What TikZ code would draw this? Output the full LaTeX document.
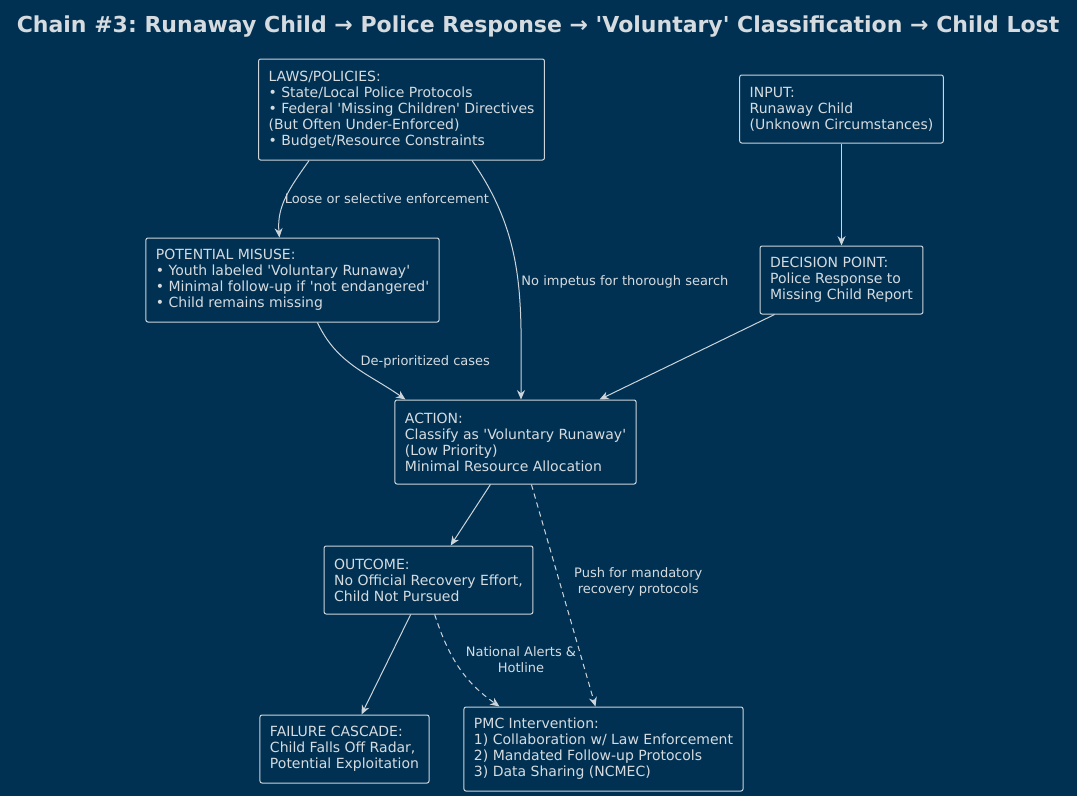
\documentclass[tikz,border=0pt]{standalone}
\usepackage{fontspec}
\setmainfont{DejaVu Sans}
\usetikzlibrary{arrows.meta,calc,positioning}
\definecolor{ChainBg}{RGB}{0,49,83}
\definecolor{ChainLine}{RGB}{205,212,218}
\definecolor{ChainText}{RGB}{214,219,223}
\newcommand{\sq}{\textquotesingle}
\frenchspacing

\begin{document}
\begin{tikzpicture}[x=0.75pt,y=-0.75pt,>={Stealth[length=7pt,width=6pt]},
    box/.style={draw=ChainLine,fill=ChainBg,text=ChainText,rounded corners=1.5pt,
      align=left,inner xsep=7.5pt,inner ysep=5pt,line width=0.75pt,
      font=\fontsize{10.5}{12}\selectfont},
    lbl/.style={text=ChainText,font=\fontsize{9.75}{12}\selectfont,align=center,inner sep=1pt},
    flow/.style={->,ChainLine,line width=0.75pt},
    alt/.style={flow,dash pattern=on 4pt off 3pt}]
  % background and title
  \fill[ChainBg] (0,0) rectangle (1077,796);
  \node[text=ChainText,font=\bfseries\fontsize{16.5}{19}\selectfont] (title) at (538,27)
    {Chain \#3: Runaway Child → Police Response → \sq Voluntary\sq{} Classification → Child Lost};

  % boxes
  \node[box,minimum height=101*0.75pt] (laws) at (401.5,109.5)
    {LAWS/POLICIES:\\• State/Local Police Protocols\\• Federal \sq Missing Children\sq{} Directives\\(But Often Under-Enforced)\\• Budget/Resource Constraints};
  \node[box,minimum height=68*0.75pt] (input) at (841.5,109)
    {INPUT:\\Runaway Child\\(Unknown Circumstances)};
  \node[box,minimum height=84*0.75pt] (misuse) at (292.5,280)
    {POTENTIAL MISUSE:\\• Youth labeled \sq Voluntary Runaway\sq\\• Minimal follow-up if \sq not endangered\sq\\• Child remains missing};
  \node[box,minimum height=68*0.75pt] (decision) at (841.5,280)
    {DECISION POINT:\\Police Response to\\Missing Child Report};
  \node[box,minimum height=84*0.75pt] (action) at (515.5,442)
    {ACTION:\\Classify as \sq Voluntary Runaway\sq\\(Low Priority)\\Minimal Resource Allocation};
  \node[box,minimum height=68*0.75pt] (outcome) at (428.5,580)
    {OUTCOME:\\No Official Recovery Effort,\\Child Not Pursued};
  \node[box,minimum height=68*0.75pt] (failure) at (344.5,749)
    {FAILURE CASCADE:\\Child Falls Off Radar,\\Potential Exploitation};
  \node[box,minimum height=84*0.75pt] (pmc) at (603.5,749)
    {PMC Intervention:\\1) Collaboration w/ Law Enforcement\\2) Mandated Follow-up Protocols\\3) Data Sharing (NCMEC)};

  % connectors
  \draw[flow] ($(laws.south west)+(51,0)$) to[out=-125,in=95]
    node[lbl,pos=0.5,right=-2.5pt,yshift=-1.5pt] {Loose or selective enforcement}
    ($(misuse.north west)+(134,0)$);
  \draw[flow] ($(laws.south east)+(-73,0)$) to[out=-55,in=90]
    node[lbl,pos=0.5,right=2pt,yshift=-6pt] {No impetus for thorough search}
    ($(action.north)+(5.5,0)$);
  \draw[flow] (input.south) -- (decision.north);
  \draw[flow] ($(decision.south west)+(15,0)$) -- ($(action.north east)+(-37,0)$);
  \draw[flow] ($(misuse.south west)+(172,0)$) to[out=-65,in=145]
    node[lbl,pos=0.5,xshift=53pt,yshift=3.5pt] {De-prioritized cases}
    ($(action.north west)+(11,0)$);
  \draw[flow] ($(action.south west)+(96,0)$) -- ($(outcome.north west)+(127,0)$);
  \draw[alt] ($(action.south west)+(137,0)$) --
    node[lbl,pos=0.43,right=10pt,yshift=-1.5pt] {Push for mandatory\\recovery protocols}
    ($(pmc.north west)+(132,0)$);
  \draw[flow] ($(outcome.south west)+(87,0)$) -- ($(failure.north west)+(102,0)$);
  \draw[alt] ($(outcome.south west)+(111,0)$) to[out=-72,in=145]
    node[lbl,pos=0.5,right=4pt,yshift=5pt] {National Alerts \&\\Hotline}
    ($(pmc.north west)+(36,0)$);
\end{tikzpicture}
\end{document}
